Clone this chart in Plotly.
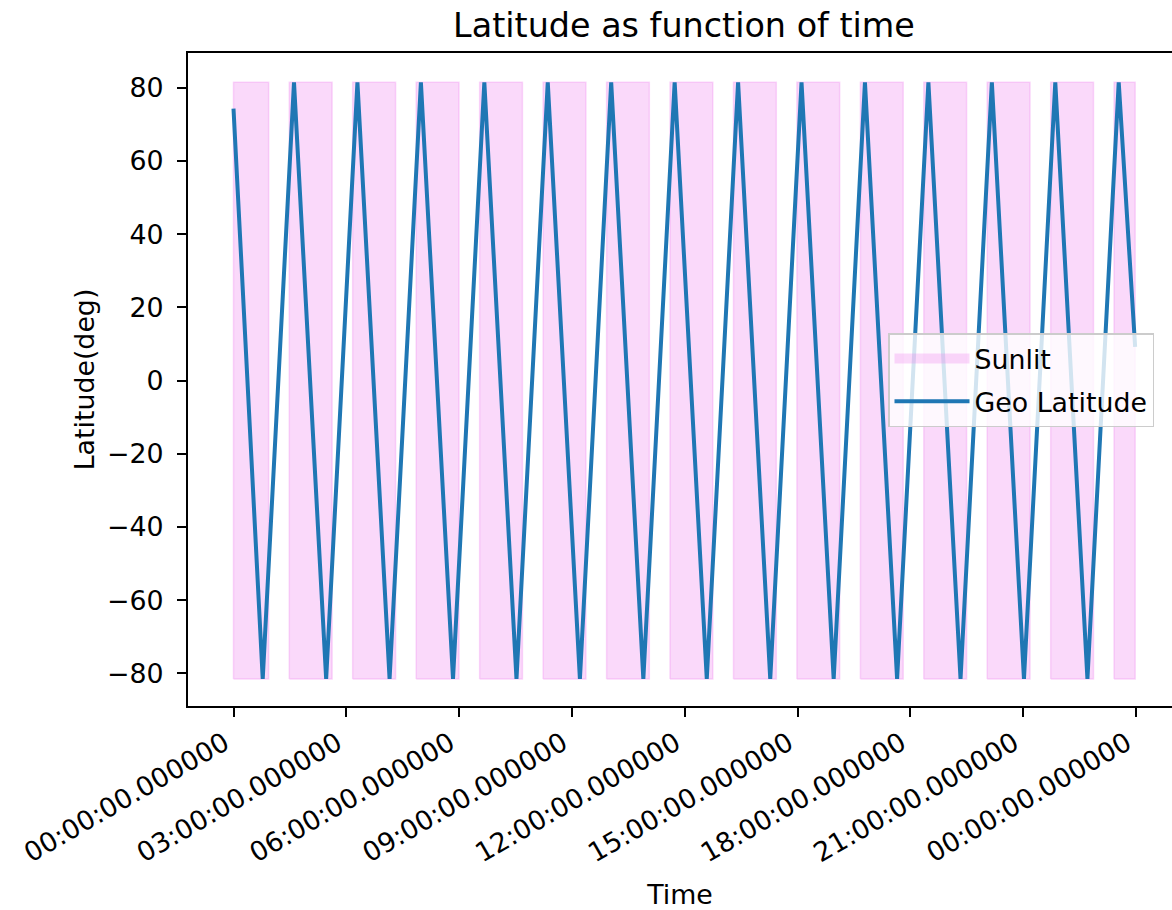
import pandas as pd
import plotly.graph_objects as go

# ---- data (hours since 00:00 of the day) ----
BASE_DATE = "2023-01-01"
lat_start_hour = 0.0
lat_start_value = 74.3
trough_hours = [0.777, 2.464, 4.151, 5.838, 7.526, 9.213, 10.900, 12.587,
                14.275, 15.962, 17.649, 19.336, 21.023, 22.711]
peak_hours = [1.609, 3.296, 4.984, 6.671, 8.358, 10.045, 11.733, 13.420,
              15.107, 16.794, 18.481, 20.169, 21.856, 23.543]
lat_max = 81.5
lat_min = -81.5
lat_end_hour = 23.98
lat_end_value = 9.2

sunlit_start_hours = [0.0, 1.484, 3.170, 4.859, 6.546, 8.235, 9.923, 11.609,
                      13.298, 14.984, 16.673, 18.359, 20.045, 21.734, 23.420]
sunlit_end_hours = [0.936, 2.622, 4.311, 5.997, 7.684, 9.373, 11.059, 12.748,
                    14.436, 16.122, 17.811, 19.497, 21.184, 22.872, 23.98]

x_tick_hours = [0, 3, 6, 9, 12, 15, 18, 21, 24]
x_tick_labels = ["00:00:00.000000", "03:00:00.000000", "06:00:00.000000",
                 "09:00:00.000000", "12:00:00.000000", "15:00:00.000000",
                 "18:00:00.000000", "21:00:00.000000", "00:00:00.000000"]
y_tick_values = [-80, -60, -40, -20, 0, 20, 40, 60, 80]
y_tick_labels = ["\u221280", "\u221260", "\u221240", "\u221220", "0",
                 "20", "40", "60", "80"]

base = pd.Timestamp(BASE_DATE)


def to_time(h):
    return base + pd.to_timedelta(h, unit="h")


# latitude polyline from turning points
lat_hours = [lat_start_hour]
lat_vals = [lat_start_value]
for tr, pk in zip(trough_hours, peak_hours):
    lat_hours += [tr, pk]
    lat_vals += [lat_min, lat_max]
lat_hours.append(lat_end_hour)
lat_vals.append(lat_end_value)
lat_times = [to_time(h) for h in lat_hours]

# sunlit rectangles
sx, sy = [], []
for s, e in zip(sunlit_start_hours, sunlit_end_hours):
    ts, te = to_time(s), to_time(e)
    sx += [ts, ts, te, te, ts, None]
    sy += [lat_min, lat_max, lat_max, lat_min, lat_min, None]

FONT = "DejaVu Sans, Liberation Sans, sans-serif"
FS = 26.8
W, H = 1172, 910
L, R, T, B = 188, 0, 53, 204
SUN_FILL = "rgba(238,130,238,0.3)"

fig = go.Figure()
fig.add_trace(go.Scatter(
    x=sx, y=sy, mode="lines", fill="toself", name="Sunlit",
    fillcolor=SUN_FILL, line=dict(color=SUN_FILL, width=1.5),
    hoverinfo="skip", showlegend=False, legendgroup="a",
))
# legend-only swatch for the sunlit patch
fig.add_trace(go.Scatter(
    x=[None], y=[None], mode="lines", name="Sunlit",
    line=dict(color=SUN_FILL, width=21), legendgroup="a",
))
fig.add_trace(go.Scatter(
    x=lat_times, y=lat_vals, mode="lines", name="Geo Latitude",
    line=dict(color="#1f77b4", width=4), legendgroup="b",
))

px_per_hour = 37.6
x0_px = 233.5
left_h = (L - x0_px) / px_per_hour
right_h = (W - R - x0_px) / px_per_hour

fig.update_layout(
    width=W, height=H,
    margin=dict(l=L, r=R, t=T, b=B, autoexpand=False),
    paper_bgcolor="white", plot_bgcolor="white",
    font=dict(family=FONT, size=FS, color="#000000"),
    title=dict(text="Latitude as function of time", x=684 / W, xref="container",
               xanchor="center", y=1 - 25 / H, yref="container", yanchor="middle",
               font=dict(size=33.4, family=FONT, color="#000000")),
    showlegend=True,
    legend=dict(x=(888 - L) / (W - L - R), y=(H - B - 333) / (H - T - B),
                xanchor="left", yanchor="top",
                bgcolor="rgba(255,255,255,0.8)", bordercolor="#cccccc",
                borderwidth=1.5, font=dict(size=FS, family=FONT, color="#000000"),
                itemwidth=75, tracegroupgap=5),
)
fig.update_xaxes(
    range=[to_time(left_h), to_time(right_h)],
    tickvals=[to_time(h) for h in x_tick_hours], ticktext=x_tick_labels,
    tickangle=-30, ticks="outside", ticklen=9, tickwidth=2, tickcolor="black",
    ticklabelshift=-9,
    showline=True, linecolor="black", linewidth=2, mirror=True,
    showgrid=False, zeroline=False, automargin=False,
    title=dict(text="Time", standoff=19, font=dict(size=FS, family=FONT)),
    tickfont=dict(size=FS, family=FONT, color="#000000"),
)
fig.update_yaxes(
    range=[-88.9, 89.5],
    tickvals=y_tick_values, ticktext=y_tick_labels,
    ticks="outside", ticklen=9, tickwidth=2, tickcolor="black",
    ticklabelstandoff=8,
    showline=True, linecolor="black", linewidth=2, mirror=False,
    showgrid=False, zeroline=False, automargin=False,
    title=dict(text="Latitude(deg)", standoff=5, font=dict(size=FS, family=FONT)),
    tickfont=dict(size=FS, family=FONT, color="#000000"),
)

fig.write_html("out.html", config={"displayModeBar": False},
               post_script="document.body.style.margin='0px';")
